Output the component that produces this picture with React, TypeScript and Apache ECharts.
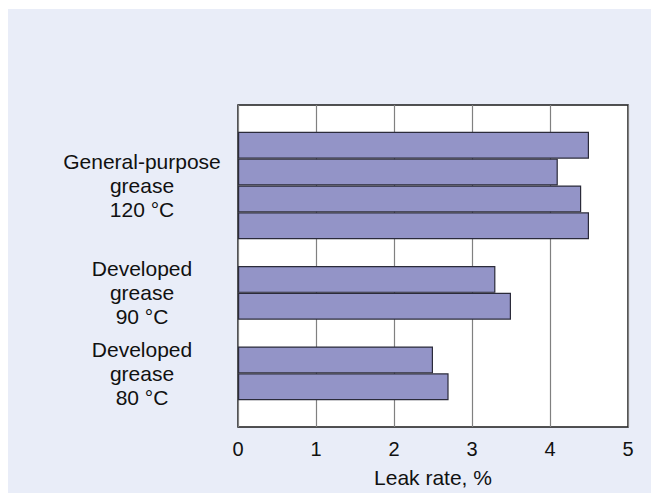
import React, { useEffect, useRef } from "react";
import * as echarts from "echarts";

// Leak rate (%) for each test run, grouped by grease and temperature
const generalPurpose120 = [4.5, 4.1, 4.4, 4.5];
const developed90 = [3.3, 3.5];
const developed80 = [2.5, 2.7];

// Group labels and the row position (in bar slots) at which each is centred
const groupLabels = [
  "General-purpose\ngrease\n120 °C",
  "Developed\ngrease\n90 °C",
  "Developed\ngrease\n80 °C",
];
const groupCentres = [3, 7, 10];

const xTicks = [0, 1, 2, 3, 4, 5];

export default function App() {
  const ref = useRef<HTMLDivElement>(null);

  useEffect(() => {
    if (!ref.current) return;
    const chart = echarts.init(ref.current, undefined, { renderer: "svg" });

    // one slot per bar, with an empty slot before, between and after the groups
    const values: (number | null)[] = [
      null,
      ...generalPurpose120,
      null,
      ...developed90,
      null,
      ...developed80,
      null,
    ];
    const slots = values.map((_, i) => `run${i}`);
    const labelAt: Record<number, string> = {};
    groupCentres.forEach((c, i) => (labelAt[c] = groupLabels[i]));

    const font = '"Liberation Sans", Arial, Helvetica, sans-serif';

    chart.setOption({
      animation: false,
      backgroundColor: "#e9edf8",
      textStyle: { fontFamily: font },
      grid: {
        left: 230,
        right: 23,
        top: 96,
        bottom: 64,
        show: true,
        backgroundColor: "#ffffff",
        borderColor: "#1a1a1a",
        borderWidth: 1.5,
      },
      xAxis: {
        type: "value",
        min: xTicks[0],
        max: xTicks[xTicks.length - 1],
        interval: 1,
        name: "Leak rate, %",
        nameLocation: "middle",
        nameGap: 40,
        nameTextStyle: { fontSize: 21, color: "#111", fontFamily: font },
        axisLine: { show: false },
        axisTick: { show: false },
        axisLabel: { fontSize: 20, color: "#111", margin: 12, fontFamily: font },
        splitLine: { show: true, lineStyle: { color: "#808080", width: 1.2 } },
      },
      yAxis: [
        {
          type: "category",
          data: slots,
          inverse: true,
          boundaryGap: true,
          axisLine: { show: false },
          axisTick: { show: false },
          axisLabel: { show: false },
          splitLine: { show: false },
        },
        {
          type: "value",
          position: "left",
          min: 0,
          max: slots.length,
          interval: 1,
          inverse: true,
          axisLine: { show: false },
          axisTick: { show: false },
          splitLine: { show: false },
          axisLabel: {
            show: true,
            align: "center",
            margin: 96,
            fontSize: 21,
            lineHeight: 24,
            color: "#111",
            fontFamily: font,
            showMinLabel: false,
            showMaxLabel: false,
            formatter: (v: number) => labelAt[v] || "",
          },
        },
      ],
      series: [
        {
          type: "bar",
          yAxisIndex: 0,
          data: values,
          barWidth: "100%",
          barCategoryGap: "0%",
          itemStyle: {
            color: "#9394c7",
            borderColor: "#2b2b3a",
            borderWidth: 1.2,
          },
        },
      ],
    });

    return () => chart.dispose();
  }, []);

  return (
    <div
      ref={ref}
      style={{ position: "absolute", left: 8, top: 9, width: 643, height: 484 }}
    />
  );
}
